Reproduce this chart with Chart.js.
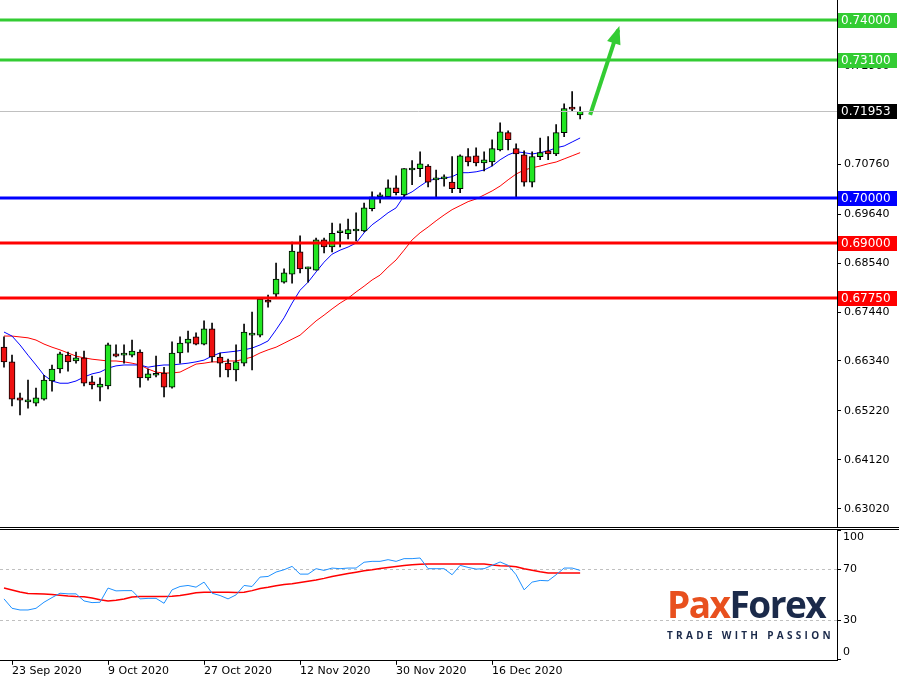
<!DOCTYPE html>
<html>
<head>
<meta charset="utf-8">
<script src="https://cdn.jsdelivr.net/npm/chart.js@4/dist/chart.umd.min.js"></script>
<style>
  body { margin: 0; background: #fff; width: 899px; height: 678px; overflow: hidden; position: relative; font-family: "DejaVu Sans", sans-serif; }
  #main-wrap { position: absolute; left: 0; top: 0; width: 899px; height: 527px; }
  #sep { position: absolute; left: 0; top: 527px; width: 899px; height: 1px; border-top: 1px solid #000; border-bottom: 1px solid #000; }
  #rsi-wrap { position: absolute; left: 0; top: 530px; width: 899px; height: 148px; }
  #logo { position: absolute; left: 667px; top: 584px; width: 175px; }
  #logo .big { font: bold 37px "Open Sans", sans-serif; letter-spacing: -1.5px; line-height: 40px; }
  #logo .pax { color: #e8501e; }
  #logo .fx { color: #1b2a4a; }
  #logo .tag { font: bold 10px "Open Sans", sans-serif; letter-spacing: 3.3px; color: #1b2a4a; margin-top: 4px; }
</style>
</head>
<body>
<div id="main-wrap"><canvas id="main"></canvas></div>
<div id="sep"></div>
<div id="rsi-wrap"><canvas id="rsi"></canvas></div>
<div id="logo"><div class="big"><span class="pax">Pax</span><span class="fx">Forex</span></div><div class="tag">TRADE WITH PASSION</div></div>
<script>
// candles: open, high, low, close (daily, from 22 Sep 2020)
const opens  = [0.6665,0.6632,0.6551,0.6542,0.6539,0.6548,0.6589,0.6616,0.6647,0.6634,0.6641,0.6587,0.6575,0.6578,0.6650,0.6647,0.6647,0.6654,0.6596,0.6602,0.6607,0.6575,0.6652,0.6674,0.6688,0.6672,0.6706,0.6643,0.6629,0.6614,0.6629,0.6692,0.6692,0.6771,0.6784,0.6811,0.6829,0.6879,0.6841,0.6838,0.6906,0.6890,0.6922,0.6920,0.6926,0.6926,0.6976,0.7003,0.7003,0.7023,0.7007,0.7063,0.7066,0.7072,0.7041,0.7043,0.7036,0.7021,0.7093,0.7095,0.7079,0.7081,0.7108,0.7147,0.7111,0.7097,0.7036,0.7093,0.7106,0.7099,0.7147,0.7201,0.7187];
const highs  = [0.6688,0.6647,0.6562,0.6591,0.6573,0.6602,0.6625,0.6654,0.6654,0.6654,0.6656,0.6600,0.6596,0.6674,0.6670,0.6670,0.6681,0.6659,0.6616,0.6645,0.6620,0.6677,0.6688,0.6701,0.6697,0.6724,0.6719,0.6652,0.6638,0.6670,0.6717,0.6744,0.6775,0.6782,0.6854,0.6841,0.6901,0.6915,0.6845,0.6910,0.6910,0.6944,0.6942,0.6953,0.6967,0.6989,0.7014,0.7012,0.7041,0.7050,0.7066,0.7084,0.7104,0.7075,0.7063,0.7052,0.7093,0.7097,0.7111,0.7113,0.7104,0.7131,0.7169,0.7151,0.7122,0.7106,0.7104,0.7135,0.7138,0.7165,0.7212,0.7239,0.7205];
const lows   = [0.6620,0.6533,0.6513,0.6528,0.6533,0.6546,0.6566,0.6607,0.6611,0.6629,0.6578,0.6571,0.6544,0.6571,0.6643,0.6629,0.6643,0.6575,0.6591,0.6598,0.6553,0.6573,0.6629,0.6654,0.6670,0.6670,0.6632,0.6598,0.6598,0.6589,0.6623,0.6614,0.6688,0.6755,0.6778,0.6809,0.6809,0.6832,0.6811,0.6838,0.6877,0.6879,0.6890,0.6908,0.6904,0.6924,0.6971,0.6989,0.7003,0.7007,0.7003,0.7030,0.7048,0.7025,0.7003,0.7027,0.7012,0.7012,0.7072,0.7072,0.7061,0.7072,0.7106,0.7108,0.7003,0.7027,0.7025,0.7086,0.7086,0.7095,0.7138,0.7194,0.7178];
const closes = [0.6632,0.6548,0.6546,0.6543,0.6551,0.6591,0.6616,0.6650,0.6632,0.6641,0.6584,0.6580,0.6582,0.6670,0.6645,0.6648,0.6656,0.6596,0.6605,0.6603,0.6575,0.6652,0.6674,0.6683,0.6672,0.6706,0.6643,0.6629,0.6614,0.6632,0.6699,0.6694,0.6773,0.6766,0.6818,0.6832,0.6881,0.6841,0.6845,0.6906,0.6890,0.6921,0.6923,0.6929,0.6927,0.6978,0.7003,0.7004,0.7023,0.7012,0.7066,0.7064,0.7077,0.7036,0.7041,0.7044,0.7021,0.7095,0.7081,0.7079,0.7086,0.7111,0.7149,0.7131,0.7099,0.7036,0.7093,0.7102,0.7099,0.7147,0.7201,0.7200,0.7195];

// moving averages (blue fast, red slow)
const maFast = [0.6699,0.6690,0.6670,0.6647,0.6625,0.6602,0.6589,0.6584,0.6584,0.6589,0.6598,0.6605,0.6609,0.6618,0.6623,0.6625,0.6625,0.6625,0.6620,0.6623,0.6625,0.6625,0.6627,0.6629,0.6632,0.6636,0.6645,0.6652,0.6654,0.6656,0.6659,0.6663,0.6670,0.6679,0.6704,0.6731,0.6764,0.6793,0.6811,0.6834,0.6856,0.6874,0.6883,0.6890,0.6899,0.6922,0.6940,0.6953,0.6967,0.6978,0.7005,0.7014,0.7027,0.7039,0.7043,0.7045,0.7048,0.7057,0.7057,0.7059,0.7063,0.7072,0.7086,0.7097,0.7104,0.7102,0.7099,0.7102,0.7106,0.7113,0.7117,0.7126,0.7135];
const maSlow = [0.6690,0.6690,0.6688,0.6686,0.6681,0.6672,0.6665,0.6659,0.6652,0.6645,0.6641,0.6638,0.6636,0.6634,0.6634,0.6632,0.6629,0.6625,0.6616,0.6609,0.6607,0.6607,0.6609,0.6618,0.6627,0.6629,0.6632,0.6632,0.6634,0.6634,0.6638,0.6643,0.6652,0.6659,0.6665,0.6674,0.6683,0.6692,0.6708,0.6724,0.6737,0.6751,0.6764,0.6775,0.6789,0.6802,0.6816,0.6827,0.6845,0.6861,0.6883,0.6906,0.6922,0.6935,0.6949,0.6962,0.6974,0.6983,0.6992,0.6998,0.7007,0.7016,0.7027,0.7041,0.7054,0.7063,0.7068,0.7072,0.7077,0.7081,0.7088,0.7095,0.7102];

// oscillator panel
const oscFast = [46.6,39.3,38,38,39.3,44,47.6,51,50.5,50.5,45,43.7,44,55,52.8,53,53,46.6,47,47,43.2,53.6,56.2,57,55.7,59.6,51,49.2,46.6,49.7,57,56.2,63.5,64,67.4,69.2,71.8,65.8,65.8,70,68.7,70.5,70,70.5,70.5,75,75.7,75.7,77,75.7,77.8,77.8,78.3,70,70,70,65.3,72.6,71,69.7,70,72.6,75.2,72.6,65.3,53.6,59.6,60.9,60.6,65.3,70.5,70.5,68.7];
const oscSlow = [55,53.5,52,50.8,50.5,50.3,50,49.5,48.8,48.4,48.2,47.2,46,45,45.5,46.5,48,48.4,48.4,48.4,48.4,48.6,49.2,50.2,51.3,51.8,51.8,51.8,51.8,51.5,51.7,53,54.6,55.6,56.8,57.8,58.4,59.3,60.3,61.2,62.5,64,65.1,66.2,67.3,68.4,69.2,70.2,71,71.7,72.4,73,73.4,73.6,73.6,73.6,73.6,73.6,73.6,73.6,73.6,72.8,72.2,72,71.5,70,68.8,67.6,66.6,66.6,66.6,66.6,66.6];

// price axis ticks and horizontal levels
const priceTicks = [0.63020,0.64120,0.65220,0.66340,0.67440,0.68540,0.69640,0.70760,0.71860,0.72960];
const levelValues = [0.74000, 0.73100, 0.71953, 0.70000, 0.69000, 0.67750];
const levelColors = ['#33cc33', '#33cc33', '#000000', '#0000ff', '#ff0000', '#ff0000'];
const arrowFrom = [73.25, 0.7187];
const arrowTo = [76.75, 0.7378];

// date labels (candle index -> text)
const dateIdx = [1, 13, 25, 37, 49, 61];
const dateText = ['23 Sep 2020', '9 Oct 2020', '27 Oct 2020', '12 Nov 2020', '30 Nov 2020', '16 Dec 2020'];
const oscTicks = [100, 70, 30, 0];

const xMin = -0.5, xMax = 104.1;
const AXW = 62;
const FONT = '11px "DejaVu Sans", sans-serif';

const idx = closes.map((c, i) => i);
const bodyColors = closes.map((c, i) => c >= opens[i] ? '#22e622' : '#ee1111');

const levelsPlugin = {
    id: 'levels',
    afterDatasetsDraw(chart) {
        const ctx = chart.ctx, y = chart.scales.y, a = chart.chartArea;
        ctx.save();
        levelValues.forEach((v, k) => {
            const py = Math.round(y.getPixelForValue(v));
            ctx.beginPath();
            ctx.strokeStyle = k === 2 ? '#c0c0c0' : levelColors[k];
            ctx.lineWidth = k === 2 ? 1 : 3;
            ctx.moveTo(a.left, py + (k === 2 ? 0.5 : 0));
            ctx.lineTo(a.right, py + (k === 2 ? 0.5 : 0));
            ctx.stroke();
        });
        // arrow head
        const x = chart.scales.x;
        const x1 = x.getPixelForValue(arrowFrom[0]), y1 = y.getPixelForValue(arrowFrom[1]);
        const x2 = x.getPixelForValue(arrowTo[0]), y2 = y.getPixelForValue(arrowTo[1]);
        const ang = Math.atan2(y2 - y1, x2 - x1);
        ctx.fillStyle = '#33cc33';
        ctx.beginPath();
        ctx.moveTo(x2 + 4 * Math.cos(ang), y2 + 4 * Math.sin(ang));
        ctx.lineTo(x2 - 14 * Math.cos(ang) + 7 * Math.sin(ang), y2 - 14 * Math.sin(ang) - 7 * Math.cos(ang));
        ctx.lineTo(x2 - 14 * Math.cos(ang) - 7 * Math.sin(ang), y2 - 14 * Math.sin(ang) + 7 * Math.cos(ang));
        ctx.closePath();
        ctx.fill();
        ctx.restore();
    },
    afterDraw(chart) {
        const ctx = chart.ctx, y = chart.scales.y, a = chart.chartArea;
        ctx.save();
        ctx.font = '12px "DejaVu Sans", sans-serif';
        ctx.textBaseline = 'middle';
        levelValues.forEach((v, k) => {
            const py = Math.round(y.getPixelForValue(v));
            ctx.fillStyle = levelColors[k];
            ctx.fillRect(a.right + 1, py - 7, 59, 15);
            ctx.fillStyle = '#fff';
            ctx.fillText(v.toFixed(5), a.right + 4, py + 1);
        });
        ctx.restore();
    }
};

new Chart(document.getElementById('main'), {
    type: 'bar',
    data: {
        datasets: [
            { type: 'line', data: idx.map(i => ({ x: i, y: maFast[i] })), borderColor: '#0000ff', borderWidth: 1, pointRadius: 0, order: 2 },
            { type: 'line', data: idx.map(i => ({ x: i, y: maSlow[i] })), borderColor: '#ff0000', borderWidth: 1, pointRadius: 0, order: 2 },
            { data: idx.map(i => ({ x: i, y: [lows[i], highs[i]] })), backgroundColor: '#000', barThickness: 1, grouped: false, order: 1 },
            { data: idx.map(i => ({ x: i, y: [opens[i], closes[i]] })), backgroundColor: bodyColors, borderColor: '#000', borderWidth: 1, borderSkipped: false, barThickness: 6, minBarLength: 2, grouped: false, order: 0 },
            { type: 'line', data: [{ x: arrowFrom[0], y: arrowFrom[1] }, { x: arrowTo[0], y: arrowTo[1] }], borderColor: '#33cc33', borderWidth: 4, pointRadius: 0, order: -1 }
        ]
    },
    options: {
        responsive: true,
        maintainAspectRatio: false,
        animation: false,
        layout: { padding: 0 },
        plugins: { legend: { display: false }, tooltip: { enabled: false } },
        scales: {
            x: { type: 'linear', min: xMin, max: xMax, offset: false, bounds: 'ticks', display: false },
            y: {
                position: 'right', min: 0.6261, max: 0.7445,
                afterFit(s) { s.width = AXW; s.paddingTop = 0; s.paddingBottom = 0; },
                afterBuildTicks(s) { s.ticks = priceTicks.map(v => ({ value: v })); },
                grid: { drawOnChartArea: false, tickLength: 4, color: '#000' },
                border: { color: '#000', width: 1 },
                ticks: { color: '#000', font: { family: 'DejaVu Sans', size: 11 }, padding: 3, callback: v => v.toFixed(5) }
            }
        }
    },
    plugins: [levelsPlugin]
});

const oscPlugin = {
    id: 'osc',
    beforeDatasetsDraw(chart) {
        const ctx = chart.ctx, y = chart.scales.y, a = chart.chartArea;
        ctx.save();
        ctx.strokeStyle = '#c0c0c0';
        ctx.setLineDash([3, 3]);
        [70, 30].forEach(v => {
            const py = Math.round(y.getPixelForValue(v)) + 0.5;
            ctx.beginPath(); ctx.moveTo(a.left, py); ctx.lineTo(a.right, py); ctx.stroke();
        });
        ctx.restore();
    },
    afterDraw(chart) {
        const ctx = chart.ctx, y = chart.scales.y, a = chart.chartArea;
        ctx.save();
        ctx.font = FONT;
        ctx.fillStyle = '#000';
        ctx.strokeStyle = '#000';
        ctx.textBaseline = 'middle';
        oscTicks.forEach(v => {
            let py = y.getPixelForValue(v);
            ctx.beginPath(); ctx.moveTo(a.right, Math.round(py) + 0.5); ctx.lineTo(a.right + 4, Math.round(py) + 0.5); ctx.stroke();
            if (v === 100) py += 7;
            if (v === 0) py -= 7;
            ctx.fillText(String(v), a.right + 6, py);
        });
        ctx.restore();
    }
};

new Chart(document.getElementById('rsi'), {
    type: 'line',
    data: {
        datasets: [
            { data: idx.map(i => ({ x: i, y: oscFast[i] })), borderColor: '#1e90ff', borderWidth: 1, pointRadius: 0 },
            { data: idx.map(i => ({ x: i, y: oscSlow[i] })), borderColor: '#ff0000', borderWidth: 1.5, pointRadius: 0 }
        ]
    },
    options: {
        responsive: true,
        maintainAspectRatio: false,
        animation: false,
        layout: { padding: 0 },
        plugins: { legend: { display: false }, tooltip: { enabled: false } },
        scales: {
            x: {
                type: 'linear', min: xMin, max: xMax,
                afterBuildTicks(s) { s.ticks = dateIdx.map(v => ({ value: v })); },
                grid: { drawOnChartArea: false, tickLength: 4, color: '#000' },
                border: { color: '#000', width: 1 },
                ticks: { color: '#000', font: { family: 'DejaVu Sans', size: 11 }, padding: 0, align: 'start', maxRotation: 0, autoSkip: false,
                         callback: v => dateText[dateIdx.indexOf(v)] }
            },
            y: {
                position: 'right', min: -1.4, max: 100,
                afterFit(s) { s.width = AXW; },
                grid: { display: false },
                border: { color: '#000', width: 1 },
                ticks: { display: false }
            }
        }
    },
    plugins: [oscPlugin]
});
</script>
</body>
</html>
